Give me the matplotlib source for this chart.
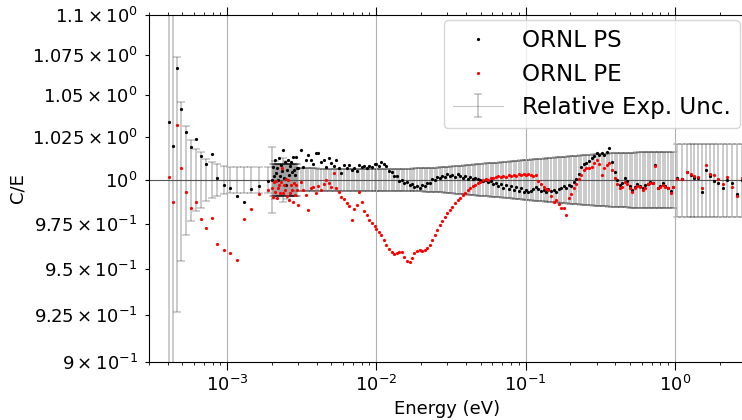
import numpy as np
import matplotlib
matplotlib.use("Agg")
import matplotlib.pyplot as plt
from matplotlib.ticker import NullLocator

# ---------------- data ----------------
# low-energy points
e_low = [4.06e-4, 4.33e-4, 4.63e-4, 4.95e-4, 5.32e-4, 5.71e-4, 6.17e-4, 6.67e-4,
         7.28e-4, 7.91e-4, 8.63e-4, 9.47e-4, 1.044e-3, 1.164e-3, 1.297e-3,
         1.454e-3, 1.645e-3, 1.871e-3]
ps_low = [1.0337, 1.0200, 1.0667, 1.0419, 1.0280, 1.0189, 1.0240, 1.0136, 1.0091,
          1.0151, 1.0010, 0.9969, 0.9950, 0.9908, 0.9875, 0.9948, 0.9964, 0.9996]
pe_low = [1.0016, 0.9874, 1.0321, 1.0070, 0.9931, 0.9839, 0.9874, 0.9775, 0.9726,
          0.9783, 0.9638, 0.9603, 0.9585, 0.9548, 0.9775, 0.9830, 0.9919, 0.9941]
unc_low = [0.20, 0.15, 0.0735, 0.0459, 0.0315, 0.0234, 0.0181, 0.0163, 0.0120,
           0.0103, 0.0091, 0.0081, 0.0077, 0.0076, 0.0076, 0.0076, 0.0076, 0.0076]

# dense cluster around 2-3 meV
e_clu = [2.00e-3, 2.03e-3, 2.06e-3, 2.09e-3, 2.12e-3, 2.15e-3, 2.19e-3, 2.22e-3,
         2.26e-3, 2.29e-3, 2.33e-3, 2.36e-3, 2.40e-3, 2.44e-3, 2.48e-3, 2.52e-3,
         2.56e-3, 2.60e-3, 2.64e-3, 2.68e-3, 2.72e-3, 2.76e-3, 2.81e-3, 2.85e-3,
         2.90e-3, 2.94e-3]
ps_clu = [1.0000, 1.0075, 1.0023, 1.0116, 1.0041, 1.0070, 1.0000, 1.0128, 1.0023,
          1.0087, 1.0052, 1.0175, 1.0012, 1.0105, 0.9971, 1.0058, 1.0116, 1.0029,
          1.0081, 1.0105, 1.0046, 1.0134, 1.0058, 1.0029, 1.0134, 1.0070]
pe_clu = [0.9954, 0.9902, 0.9988, 0.9931, 0.9994, 0.9896, 0.9954, 0.9971, 0.9925,
          0.9988, 1.0070, 0.9925, 0.9971, 0.9942, 1.0006, 0.9908, 1.0000, 0.9885,
          0.9925, 0.9971, 0.9942, 0.9874, 0.9983, 0.9914, 0.9971, 0.9942]
unc_clu = [0.0190, 0.0093, 0.0093, 0.0110, 0.0093, 0.0093, 0.0093, 0.0093, 0.0093,
           0.0093, 0.0093, 0.0128, 0.0093, 0.0093, 0.0093, 0.0110, 0.0093, 0.0093,
           0.0093, 0.0093, 0.0093, 0.0093, 0.0093, 0.0093, 0.0093, 0.0093]

# main measurement, 3 meV - 10 meV
e_m1 = [3.00e-3, 3.12e-3, 3.24e-3, 3.37e-3, 3.51e-3, 3.65e-3, 3.79e-3, 3.95e-3,
        4.10e-3, 4.27e-3, 4.44e-3, 4.62e-3, 4.80e-3, 4.99e-3, 5.19e-3, 5.40e-3,
        5.62e-3, 5.84e-3, 6.08e-3, 6.32e-3, 6.57e-3, 6.83e-3, 7.11e-3, 7.39e-3,
        7.69e-3, 8.00e-3, 8.32e-3, 8.65e-3, 9.00e-3, 9.36e-3, 9.73e-3]
ps_m1 = [1.0070, 1.0175, 1.0075, 1.0116, 1.0146, 1.0116, 1.0093, 1.0157, 1.0157,
         1.0105, 1.0116, 1.0075, 1.0128, 1.0099, 1.0081, 1.0116, 1.0070, 1.0041,
         1.0087, 1.0070, 1.0087, 1.0058, 1.0070, 1.0052, 1.0087, 1.0075, 1.0081,
         1.0070, 1.0081, 1.0075, 1.0093]
pe_m1 = [0.9856, 0.9988, 0.9942, 0.9914, 0.9828, 0.9954, 0.9960, 0.9925, 0.9965,
         0.9942, 0.9977, 1.0000, 0.9983, 0.9960, 1.0041, 0.9954, 0.9931, 0.9902,
         0.9891, 0.9868, 0.9850, 0.9771, 0.9834, 0.9856, 0.9931, 0.9874, 0.9822,
         0.9800, 0.9771, 0.9754, 0.9737]
unc_m1 = [0.0066, 0.0066, 0.0066, 0.0066, 0.0066, 0.0066, 0.0066, 0.0066, 0.0063,
          0.0063, 0.0063, 0.0063, 0.0063, 0.0063, 0.0063, 0.0063, 0.0063, 0.0063,
          0.0063, 0.0063, 0.0063, 0.0063, 0.0063, 0.0063, 0.0063, 0.0063, 0.0063,
          0.0063, 0.0063, 0.0063, 0.0063]

# main measurement, 10 meV - 100 meV
e_m2 = [1.00e-2, 1.04e-2, 1.08e-2, 1.12e-2, 1.17e-2, 1.22e-2, 1.27e-2, 1.32e-2,
        1.37e-2, 1.42e-2, 1.48e-2, 1.54e-2, 1.60e-2, 1.67e-2, 1.73e-2, 1.80e-2,
        1.87e-2, 1.95e-2, 2.03e-2, 2.11e-2, 2.19e-2, 2.28e-2, 2.37e-2, 2.46e-2,
        2.56e-2, 2.67e-2, 2.77e-2, 2.88e-2, 3.00e-2, 3.12e-2, 3.24e-2, 3.37e-2,
        3.51e-2, 3.65e-2, 3.79e-2, 3.95e-2, 4.10e-2, 4.27e-2, 4.44e-2, 4.62e-2,
        4.80e-2, 4.99e-2, 5.19e-2, 5.40e-2, 5.62e-2, 5.84e-2, 6.08e-2, 6.32e-2,
        6.57e-2, 6.83e-2, 7.11e-2, 7.39e-2, 7.69e-2, 8.00e-2, 8.32e-2, 8.65e-2,
        9.00e-2, 9.36e-2, 9.73e-2]
ps_m2 = [1.0093, 1.0081, 1.0105, 1.0093, 1.0081, 1.0052, 1.0046, 1.0023, 1.0023,
         0.9994, 1.0000, 0.9983, 0.9988, 0.9971, 0.9977, 0.9960, 0.9965, 0.9954,
         0.9971, 0.9965, 0.9983, 0.9983, 1.0006, 1.0000, 1.0017, 1.0012, 1.0023,
         1.0017, 1.0035, 1.0023, 1.0029, 1.0017, 1.0035, 1.0023, 1.0012, 1.0023,
         1.0006, 1.0017, 1.0006, 1.0012, 1.0006, 1.0000, 0.9994, 1.0000, 0.9988,
         0.9994, 0.9977, 0.9983, 0.9965, 0.9977, 0.9954, 0.9971, 0.9948, 0.9965,
         0.9942, 0.9960, 0.9937, 0.9954, 0.9931]
pe_m2 = [0.9720, 0.9704, 0.9687, 0.9659, 0.9631, 0.9609, 0.9593, 0.9582, 0.9587,
         0.9593, 0.9593, 0.9565, 0.9543, 0.9537, 0.9560, 0.9587, 0.9598, 0.9603,
         0.9598, 0.9603, 0.9615, 0.9631, 0.9659, 0.9687, 0.9715, 0.9743, 0.9766,
         0.9789, 0.9811, 0.9828, 0.9845, 0.9868, 0.9885, 0.9896, 0.9914, 0.9925,
         0.9942, 0.9954, 0.9965, 0.9971, 0.9983, 0.9988, 1.0000, 1.0006, 1.0000,
         1.0012, 1.0012, 1.0017, 1.0023, 1.0017, 1.0023, 1.0017, 1.0029, 1.0023,
         1.0029, 1.0023, 1.0035, 1.0029, 1.0035]
unc_m2 = [0.0063, 0.0063, 0.0063, 0.0063, 0.0063, 0.0063, 0.0063, 0.0063, 0.0063,
          0.0063, 0.0063, 0.0063, 0.0064, 0.0065, 0.0065, 0.0066, 0.0066, 0.0067,
          0.0067, 0.0068, 0.0069, 0.0069, 0.0070, 0.0071, 0.0071, 0.0072, 0.0073,
          0.0074, 0.0075, 0.0077, 0.0078, 0.0079, 0.0080, 0.0081, 0.0082, 0.0084,
          0.0085, 0.0087, 0.0088, 0.0089, 0.0091, 0.0093, 0.0094, 0.0095, 0.0096,
          0.0097, 0.0098, 0.0099, 0.0100, 0.0101, 0.0103, 0.0104, 0.0106, 0.0107,
          0.0108, 0.0110, 0.0111, 0.0113, 0.0114]

# main measurement, 0.1 eV - 1 eV
e_m3 = [1.00e-1, 1.04e-1, 1.08e-1, 1.12e-1, 1.17e-1, 1.22e-1, 1.27e-1, 1.32e-1,
        1.37e-1, 1.42e-1, 1.48e-1, 1.54e-1, 1.60e-1, 1.67e-1, 1.73e-1, 1.80e-1,
        1.87e-1, 1.95e-1, 2.03e-1, 2.11e-1, 2.19e-1, 2.28e-1, 2.37e-1, 2.46e-1,
        2.56e-1, 2.67e-1, 2.77e-1, 2.88e-1, 3.00e-1, 3.12e-1, 3.24e-1, 3.37e-1,
        3.51e-1, 3.65e-1, 3.79e-1, 3.95e-1, 4.10e-1, 4.27e-1, 4.44e-1, 4.62e-1,
        4.80e-1, 4.99e-1, 5.19e-1, 5.40e-1, 5.62e-1, 5.84e-1, 6.08e-1, 6.32e-1,
        6.57e-1, 6.83e-1, 7.11e-1, 7.39e-1, 7.69e-1, 8.00e-1, 8.32e-1, 8.65e-1,
        9.00e-1, 9.36e-1, 9.73e-1]
ps_m3 = [0.9942, 0.9931, 0.9937, 0.9948, 0.9960, 0.9948, 0.9937, 0.9942, 0.9931,
         0.9948, 0.9937, 0.9942, 0.9931, 0.9948, 0.9954, 0.9965, 0.9954, 0.9971,
         0.9965, 0.9988, 1.0006, 1.0035, 1.0075, 1.0093, 1.0099, 1.0110, 1.0128,
         1.0140, 1.0157, 1.0146, 1.0157, 1.0146, 1.0163, 1.0187, 1.0105, 1.0046,
         1.0000, 0.9971, 0.9983, 1.0012, 0.9994, 0.9965, 0.9942, 0.9960, 0.9977,
         0.9965, 0.9954, 0.9971, 0.9977, 0.9988, 0.9983, 1.0087, 0.9954, 0.9965,
         0.9983, 0.9965, 0.9954, 0.9937, 0.9960]
pe_m3 = [1.0029, 1.0035, 1.0029, 1.0023, 1.0029, 0.9994, 0.9977, 0.9960, 0.9948,
         0.9942, 0.9908, 0.9874, 0.9885, 0.9862, 0.9839, 0.9839, 0.9800, 0.9896,
         0.9919, 0.9954, 0.9977, 1.0006, 1.0029, 1.0058, 1.0070, 1.0070, 1.0075,
         1.0099, 1.0116, 1.0093, 1.0029, 1.0070, 1.0087, 1.0099, 1.0058, 1.0012,
         0.9977, 0.9954, 0.9960, 0.9988, 0.9977, 0.9954, 0.9931, 0.9954, 0.9965,
         0.9960, 0.9942, 0.9954, 0.9977, 0.9983, 0.9983, 1.0081, 0.9954, 0.9960,
         0.9971, 0.9960, 0.9954, 0.9925, 0.9960]
unc_m3 = [0.0116, 0.0117, 0.0118, 0.0119, 0.0120, 0.0121, 0.0122, 0.0124, 0.0125,
          0.0126, 0.0127, 0.0129, 0.0130, 0.0132, 0.0133, 0.0134, 0.0135, 0.0137,
          0.0138, 0.0139, 0.0140, 0.0141, 0.0142, 0.0143, 0.0144, 0.0146, 0.0147,
          0.0148, 0.0149, 0.0150, 0.0151, 0.0152, 0.0153, 0.0154, 0.0154, 0.0155,
          0.0156, 0.0157, 0.0157, 0.0158, 0.0158, 0.0159, 0.0159, 0.0159, 0.0160,
          0.0160, 0.0160, 0.0161, 0.0161, 0.0161, 0.0161, 0.0162, 0.0162, 0.0162,
          0.0162, 0.0163, 0.0163, 0.0163, 0.0163]

# above 1 eV
e_high = [1.04, 1.12, 1.21, 1.28, 1.34, 1.44, 1.53, 1.63, 1.71, 1.83, 1.96, 2.10,
          2.25, 2.41, 2.63, 2.84]
ps_high = [1.0010, 1.0004, 1.0045, 1.0029, 1.0012, 1.0010, 0.9929, 1.0058, 1.0023,
           0.9996, 0.9981, 0.9952, 1.0000, 0.9983, 0.9919, 1.0000]
pe_high = [1.0004, 1.0004, 1.0048, 1.0035, 1.0023, 1.0019, 0.9952, 1.0087, 1.0035,
           1.0029, 1.0004, 0.9977, 1.0016, 0.9961, 0.9908, 1.0010]
unc_high = [0.021, 0.021, 0.021, 0.021, 0.021, 0.021, 0.021, 0.021, 0.021, 0.021,
            0.021, 0.021, 0.021, 0.021, 0.021, 0.021]

y_ticks = [0.9, 0.925, 0.95, 0.975, 1.0, 1.025, 1.05, 1.075, 1.1]

# ---------------- assemble ----------------
E = np.array(e_low + e_clu + e_m1 + e_m2 + e_m3 + e_high)
PS = np.array(ps_low + ps_clu + ps_m1 + ps_m2 + ps_m3 + ps_high)
PE = np.array(pe_low + pe_clu + pe_m1 + pe_m2 + pe_m3 + pe_high)
UNC = np.array(unc_low + unc_clu + unc_m1 + unc_m2 + unc_m3 + unc_high)

fig = plt.figure(figsize=(7.42, 4.20), dpi=100)
ax = fig.add_axes([149 / 742, 58 / 420, 597 / 742, 347 / 420])
ax.set_xscale("log")
ax.set_yscale("log")

ax.grid(True, axis="x", which="major", color="#b0b0b0", lw=0.8, zorder=0)
ax.axhline(1.0, color="#555555", lw=0.8, zorder=2)

eb = ax.errorbar(E, np.ones_like(E), yerr=UNC, fmt="-", color="k", ecolor="k",
                 alpha=0.22, lw=0.8, elinewidth=1.3, capsize=2.6, capthick=1.2,
                 zorder=1, label="Relative Exp. Unc.")
l_ps, = ax.plot(E, PS, "o", color="k", ms=2.3, mew=0, ls="none",
                label="ORNL PS", zorder=3)
l_pe, = ax.plot(E, PE, "o", color="red", ms=2.3, mew=0, ls="none",
                label="ORNL PE", zorder=4)

ax.set_xlim(3e-4, 3)
ax.set_ylim(0.9, 1.1)
ax.set_yticks(y_ticks)
ax.yaxis.set_minor_locator(NullLocator())

ax.tick_params(axis="x", which="major", length=5.5, width=0.8, top=True,
               labelsize=13, direction="out")
ax.tick_params(axis="x", which="minor", length=2.5, width=0.6, top=True,
               direction="out")
ax.tick_params(axis="y", which="major", length=3.2, width=0.8, labelsize=13,
               right=False, pad=5)

ax.set_xlabel("Energy (eV)", fontsize=13)
ax.set_ylabel("C/E", fontsize=13)

ax.legend([l_ps, l_pe, eb], ["ORNL PS", "ORNL PE", "Relative Exp. Unc."],
          loc="upper right", bbox_to_anchor=(740 / 742, 1 - 20 / 420),
          bbox_transform=fig.transFigure, borderaxespad=0, fontsize=16.6,
          handlelength=2.2, labelspacing=0.45)

fig.savefig("out.png", dpi=100)
